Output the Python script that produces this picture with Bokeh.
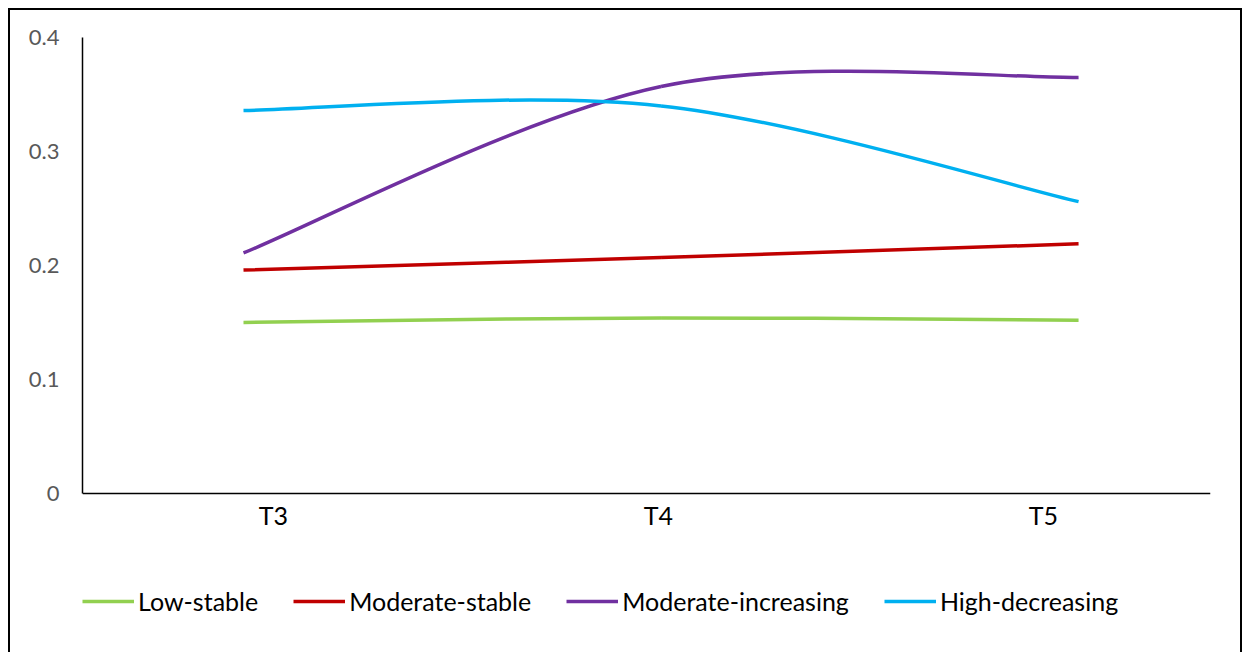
from bokeh.plotting import figure
from bokeh.models import (Range1d, LinearAxis, FixedTicker, NumeralTickFormatter,
                          Legend, LegendItem, ColumnDataSource)
from bokeh.layouts import column
from bokeh.embed import file_html
from bokeh.resources import INLINE

# ---- data ----
categories = ["T3", "T4", "T5"]
series_names = ["Low-stable", "Moderate-stable", "Moderate-increasing", "High-decreasing"]
low_stable = [0.150, 0.154, 0.152]
moderate_stable = [0.196, 0.207, 0.219]
moderate_increasing = [0.211, 0.357, 0.365]
high_decreasing = [0.336, 0.340, 0.256]
y_ticks = [0, 0.1, 0.2, 0.3, 0.4]

series_values = [low_stable, moderate_stable, moderate_increasing, high_decreasing]
colors = ["#92D050", "#C00000", "#7030A0", "#00B0F0"]

FONT = "Lato"


def smooth_segments(ys):
    """Bezier segments (Excel-style smoothing) through the data points."""
    n = len(ys)
    xs = list(range(n))
    d = dict(x0=[], y0=[], x1=[], y1=[], cx0=[], cy0=[], cx1=[], cy1=[])
    for i in range(n - 1):
        i0, i3 = max(i - 1, 0), min(i + 2, n - 1)
        d["x0"].append(xs[i]); d["y0"].append(ys[i])
        d["x1"].append(xs[i + 1]); d["y1"].append(ys[i + 1])
        d["cx0"].append(xs[i] + (xs[i + 1] - xs[i0]) / 6)
        d["cy0"].append(ys[i] + (ys[i + 1] - ys[i0]) / 6)
        d["cx1"].append(xs[i + 1] - (xs[i3] - xs[i]) / 6)
        d["cy1"].append(ys[i + 1] - (ys[i3] - ys[i]) / 6)
    return d


# frame: 579 px tall, 0.4 spans 456 px -> extends 123 px below zero for the legend
p = figure(width=1230, height=642,
           x_range=Range1d(-0.3856, 2.316), y_range=Range1d(-123 / 1140, 0.4),
           output_backend="svg", toolbar_location=None,
           x_axis_location=None,
           min_border_left=72, min_border_right=30,
           min_border_top=27, min_border_bottom=36)
p.extra_x_ranges = {"lab": Range1d(-0.496, 2.434)}
p.outline_line_color = None
p.grid.visible = False
p.background_fill_color = "white"
p.border_fill_color = "white"

# y axis
p.yaxis.ticker = FixedTicker(ticks=y_ticks)
p.yaxis.bounds = (y_ticks[0], y_ticks[-1])
p.yaxis.formatter = NumeralTickFormatter(format="0.[0]")
p.yaxis.major_tick_line_color = None
p.yaxis.minor_tick_line_color = None
p.yaxis.axis_line_color = "black"
p.yaxis.axis_line_width = 1.5
p.yaxis.major_label_text_font = FONT
p.yaxis.major_label_text_font_size = "22px"
p.yaxis.major_label_text_color = "#595959"
p.yaxis.major_label_standoff = 17

# x axis, drawn at y = 0
xaxis = LinearAxis(x_range_name="lab", fixed_location=0,
                   ticker=FixedTicker(ticks=list(range(len(categories)))),
                   major_label_overrides={i: c for i, c in enumerate(categories)})
xaxis.major_tick_line_color = None
xaxis.minor_tick_line_color = None
xaxis.axis_line_color = "black"
xaxis.axis_line_width = 1.5
xaxis.major_label_text_font = FONT
xaxis.major_label_text_font_size = "25px"
xaxis.major_label_text_color = "black"
xaxis.major_label_standoff = 0
p.add_layout(xaxis, "below")

items = []
for name, vals, col in zip(series_names, series_values, colors):
    src = ColumnDataSource(smooth_segments(vals))
    r = p.bezier(x0="x0", y0="y0", x1="x1", y1="y1", cx0="cx0", cy0="cy0",
                 cx1="cx1", cy1="cy1", source=src, line_color=col, line_width=3.5)
    items.append(LegendItem(label=name, renderers=[r]))

legend = Legend(items=items, orientation="horizontal", location=(0, 0),
                glyph_width=52, glyph_height=20, label_standoff=4, spacing=35,
                padding=0, margin=0, border_line_color=None,
                background_fill_alpha=0, label_text_font=FONT,
                label_text_font_size="25px", label_text_color="black")
p.add_layout(legend, "center")

layout = column(p, margin=(8, 0, 0, 8),
                styles={"border-top": "2px solid black",
                        "border-left": "2px solid black",
                        "border-right": "2px solid black"})

open("out.html", "w").write(file_html(layout, INLINE))
